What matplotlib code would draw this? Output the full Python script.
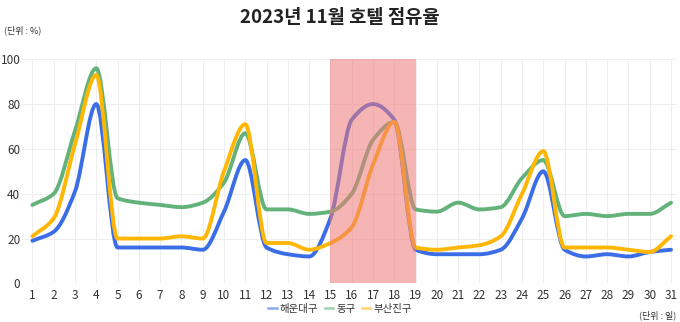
import matplotlib.pyplot as plt
import numpy as np
from matplotlib.path import Path
from matplotlib.patches import PathPatch
from matplotlib.lines import Line2D

plt.rcParams['font.family'] = ['Noto Sans CJK KR', 'DejaVu Sans']

# Data
days = list(range(1, 32))
haeundae = [19, 23, 41, 80, 16, 16, 16, 16, 15, 32, 55, 16, 13, 12, 29,
            73, 80, 73, 15, 13, 13, 13, 15, 29, 50, 15, 12, 13, 12, 14, 15]
donggu = [35, 40, 68, 96, 38, 36, 35, 34, 36, 45, 67, 33, 33, 31, 32,
          40, 64, 72, 33, 32, 36, 33, 34, 47, 55, 30, 31, 30, 31, 31, 36]
busanjin = [21, 29, 62, 93, 20, 20, 20, 21, 20, 50, 71, 18, 18, 15, 18,
            25, 53, 72, 16, 15, 16, 17, 21, 40, 59, 16, 16, 16, 15, 14, 21]
names = ['해운대구', '동구', '부산진구']
colors = ['#3b6ee6', '#62b27a', '#ffb703']
highlight = (15, 19)


def smooth_path(x, y):
    # monotone cubic (Fritsch-Carlson) as bezier segments
    x = np.asarray(x, float)
    y = np.asarray(y, float)
    h = np.diff(x)
    d = np.diff(y) / h
    m = np.zeros_like(y)
    m[0], m[-1] = d[0], d[-1]
    for i in range(1, len(y) - 1):
        if d[i - 1] * d[i] <= 0:
            m[i] = 0
        else:
            m[i] = 2 / (1 / d[i - 1] + 1 / d[i])
    verts = [(x[0], y[0])]
    codes = [Path.MOVETO]
    for i in range(len(x) - 1):
        verts += [(x[i] + h[i] / 3, y[i] + m[i] * h[i] / 3),
                  (x[i + 1] - h[i] / 3, y[i + 1] - m[i + 1] * h[i] / 3),
                  (x[i + 1], y[i + 1])]
        codes += [Path.CURVE4] * 3
    return Path(verts, codes)


fig = plt.figure(figsize=(6.8, 3.22), dpi=100)
ax = fig.add_axes([0.032, 0.120, 0.9636, 0.696])

for series, c in zip([haeundae, donggu, busanjin], colors):
    ax.add_patch(PathPatch(smooth_path(days, series), fill=False,
                           edgecolor=c, lw=2.8, capstyle='round',
                           joinstyle='round', zorder=3))

ax.axvspan(highlight[0], highlight[1], color='#f07878', alpha=0.55,
           lw=0, zorder=4)

ax.set_xlim(0.5, 31.28)
ax.set_ylim(0, 100)
ax.set_xticks(days)
ax.set_yticks(range(0, 101, 20))
ax.grid(True, color='#eeeeee', lw=0.8, zorder=0)
ax.set_axisbelow(True)
for s in ax.spines.values():
    s.set_visible(False)
ax.tick_params(length=0, labelsize=8.5, colors='#333333', pad=4)
ax.tick_params(axis='y', pad=1)

fig.text(0.5, 0.945, '2023년 11월 호텔 점유율', ha='center', va='center',
         fontsize=13.5, fontweight='bold', color='#222222')
fig.text(0.006, 0.905, '(단위 : %)', ha='left', va='center',
         fontsize=6.5, color='#333333')
fig.text(0.995, 0.022, '(단위 : 일)', ha='right', va='center',
         fontsize=6.5, color='#333333')

handles = [Line2D([], [], color=c, lw=1.8, alpha=0.6) for c in colors]
fig.legend(handles, names, loc='center', bbox_to_anchor=(0.5, 0.04),
           ncol=3, frameon=False, fontsize=7.5, handlelength=0.8,
           handletextpad=0.3, columnspacing=0.6, labelcolor='#333333')

fig.savefig('out.png', dpi=100)
